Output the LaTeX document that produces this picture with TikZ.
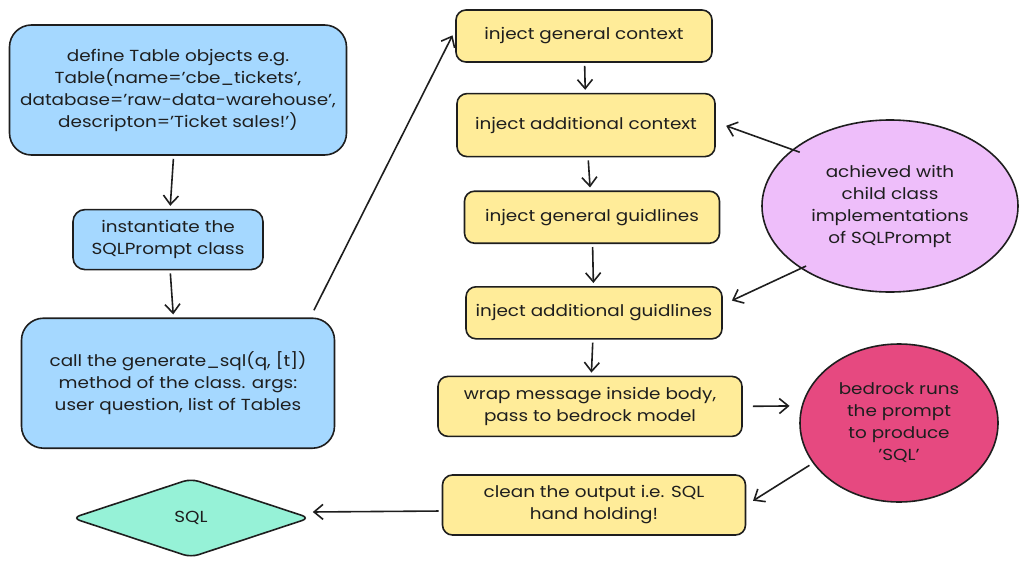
\documentclass[tikz,border=0pt]{standalone}
\usepackage{fontspec}
\setmainfont{Poppins}[FakeStretch=1.15]
\usetikzlibrary{positioning, arrows.meta, shapes.geometric}

\definecolor{ink}{HTML}{1E1E1E}
\definecolor{bluefill}{HTML}{A5D8FF}
\definecolor{yellowfill}{HTML}{FFEC99}
\definecolor{purplefill}{HTML}{EEBEFA}
\definecolor{pinkfill}{HTML}{E64980}
\definecolor{greenfill}{HTML}{96F2D7}

\begin{document}
\begin{tikzpicture}[
    x=1pt, y=1pt,
    ->,
    >={Straight Barb[length=9pt,width=15pt]},
    color=ink,
    line width=1.6pt,
    every node/.style={font=\fontsize{16}{22}\selectfont, align=center, line width=1.6pt},
    bluebox/.style={draw, fill=bluefill, rounded corners=22pt},
    yellowbox/.style={draw, fill=yellowfill, rounded corners=10pt, minimum height=52pt},
    blob/.style={draw, ellipse, inner sep=0pt},
    flow/.style={shorten >=3pt, shorten <=3pt},
  ]
  \useasboundingbox (0,0) rectangle (1025,-570);

  % Left column
  \node[bluebox, minimum width=337pt, minimum height=130pt] (def) at (178,-90)
    {define Table objects e.g.\\Table(name='cbe\_tickets',\\database='raw-data-warehouse',\\descripton='Ticket sales!')};
  \node[bluebox, rounded corners=12pt, minimum width=190pt, minimum height=60pt,
        below=53pt of def, xshift=-10pt] (inst) {instantiate the\\SQLPrompt class};
  \node[bluebox, minimum width=313pt, minimum height=130pt,
        below=47pt of inst, xshift=10pt] (call)
    {call the generate\_sql(q, [t])\\method of the class. args:\\user question, list of Tables};
  \node[draw, diamond, aspect=3, minimum width=238pt, minimum height=79pt, inner sep=0pt,
        rounded corners=8pt, fill=greenfill] (sql) at (191,-518) {SQL};

  % Middle column
  \node[yellowbox, minimum width=256pt] (gctx) at (584,-36) {inject general context};
  \node[yellowbox, minimum width=258pt, minimum height=63pt,
        below=30pt of gctx, xshift=2pt] (actx) {inject additional context};
  \node[yellowbox, minimum width=255pt, below=33pt of actx, xshift=6pt] (ggui) {inject general guidlines};
  \node[yellowbox, minimum width=256pt, below=42pt of ggui, xshift=2pt] (agui) {inject additional guidlines};
  \node[yellowbox, minimum width=304pt, minimum height=60pt,
        below=36pt of agui, xshift=-4pt] (wrap) {wrap message inside body,\\pass to bedrock model};
  \node[yellowbox, minimum width=303pt, minimum height=60pt,
        below=37pt of wrap, xshift=4pt] (clean) {clean the output i.e. SQL\\hand holding!};

  % Right column
  \node[blob, fill=purplefill, minimum width=256pt, minimum height=172pt] (ach) at (890,-206)
    {achieved with\\child class\\implementations\\of SQLPrompt};
  \node[blob, fill=pinkfill, minimum width=198pt, minimum height=158pt] (bed) at (899,-423)
    {bedrock runs\\the prompt\\to produce\\'SQL'};

  % Arrows
  \draw[flow] (def) -- (inst);
  \draw[flow] (inst) -- (call);
  \draw[shorten <=8pt, shorten >=6pt] ([xshift=-25pt]call.north east) -- ([yshift=6pt]gctx.west);
  \draw[flow] (gctx) -- (actx);
  \draw[flow] (actx) -- (ggui);
  \draw[flow] (ggui) -- (agui);
  \draw[flow] (agui) -- (wrap);
  \draw[shorten <=10pt, shorten >=12pt] (wrap.east) -- (bed.170);
  \draw[shorten <=4pt, shorten >=8pt] (bed.205) -- (clean.east);
  \draw[shorten <=3pt, shorten >=2pt] ([yshift=-6pt]clean.west) -- ([yshift=6pt]sql.east);
  \draw[shorten <=-8pt, shorten >=11pt] (ach.150) -- ([yshift=3pt]actx.east);
  \draw[shorten <=-6pt, shorten >=10pt] (ach.215) -- ([yshift=8pt]agui.east);
\end{tikzpicture}
\end{document}
